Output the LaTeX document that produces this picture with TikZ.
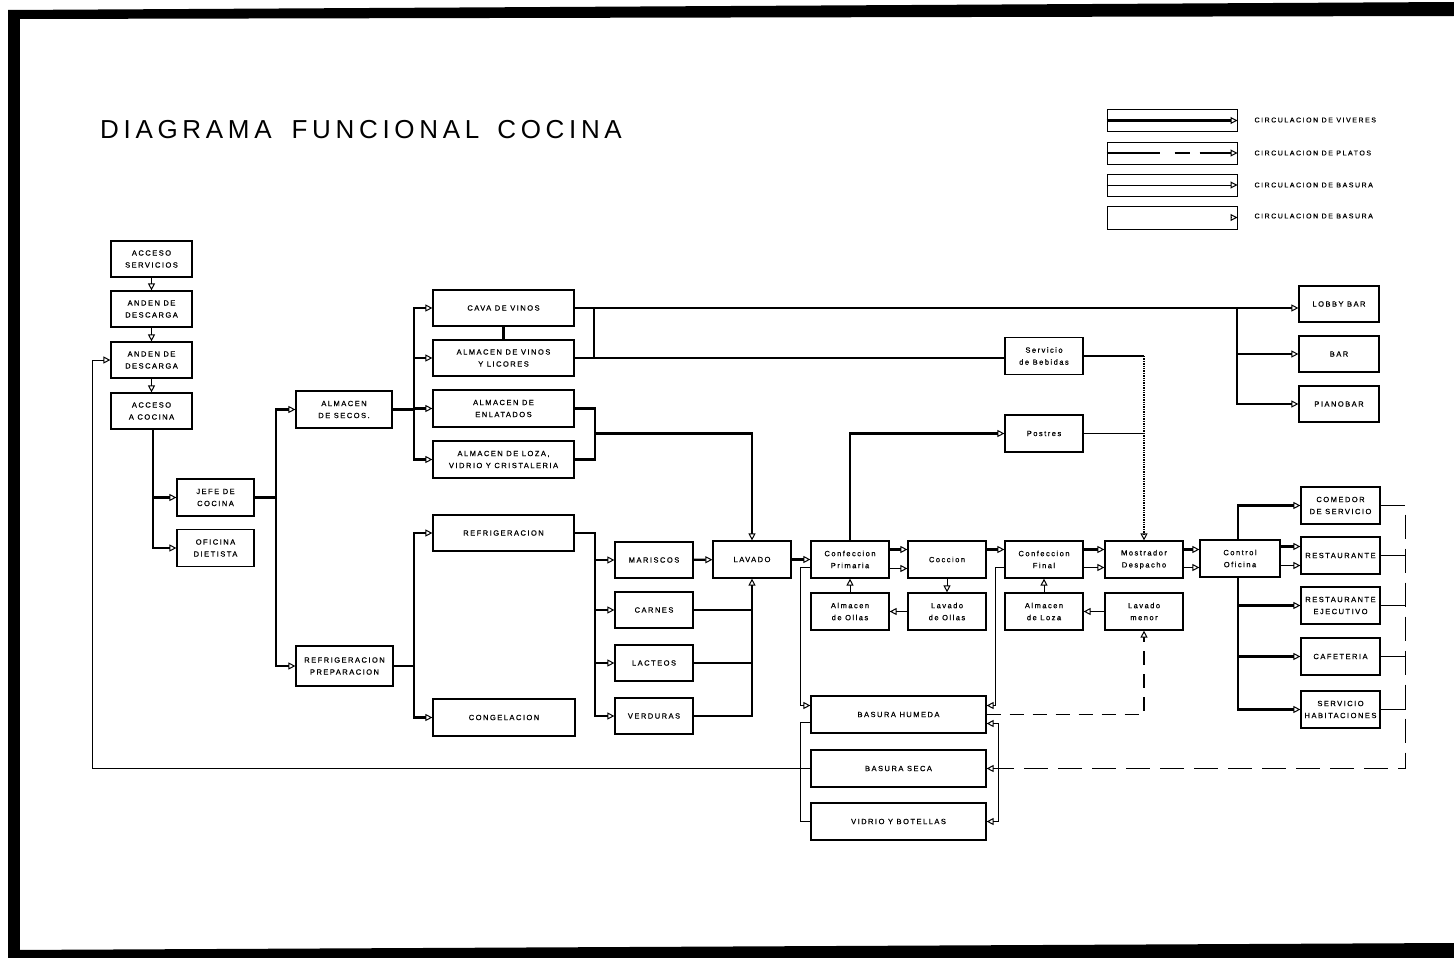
\documentclass[tikz,border=0pt]{standalone}
\usepackage{fontspec}
\setmainfont{Liberation Sans}
\newfontfamily\lblface{Liberation Sans}[LetterSpace=20,FakeBold=0.8]
\newfontfamily\lgdface{Liberation Sans}[LetterSpace=22,FakeBold=0.6]
\newfontfamily\ttlface{Liberation Sans}[LetterSpace=18]
\usetikzlibrary{arrows.meta}
\newcommand\lblfont{\lblface\fontsize{7.5}{12}\selectfont}
\newcommand\lgdfont{\lgdface\fontsize{7}{9}\selectfont}
\newcommand\ttlfont{\ttlface\fontsize{26}{30}\selectfont}

\begin{document}
\begin{tikzpicture}[x=1pt,y=-1pt,
  box/.style={draw, line width=1.2pt, align=center, inner sep=0pt, font=\lblfont,
              minimum width=78pt, minimum height=37pt},
  viv/.style={line width=2.2pt},
  medline/.style={line width=1.4pt},
  thn/.style={line width=1pt},
  plato/.style={dash pattern=on 14pt off 9pt},
  basura/.style={dash pattern=on 24pt off 10pt},
  arr/.style={-{Triangle[open,line width=1pt,length=7pt,width=7pt]}},
  lgd/.style={draw, line width=1pt, minimum width=130pt, minimum height=22pt, inner sep=0pt}]
\useasboundingbox (0,0) rectangle (1454,958);

% sheet frame
\fill (8,10) -- (1454,2) -- (1454,16) -- (8,19) -- cycle;
\fill (8,10) rectangle (20,958);
\fill (8,950) -- (1454,943) -- (1454,958) -- (8,958) -- cycle;

% title
\node[anchor=base west, font=\ttlfont, inner sep=0pt] (title) at (100,138)
  {DIAGRAMA\hspace{20pt}FUNCIONAL\hspace{18pt}COCINA};

% legend
\node[lgd] (lg1) at (1172,120.5) {};
\node[lgd] (lg2) at (1172,153) {};
\node[lgd] (lg3) at (1172,185) {};
\node[lgd, minimum height=23pt] (lg4) at (1172,217.5) {};
\draw[viv,arr] (lg1.west) -- (lg1.east);
\draw[medline,arr,dash pattern=on 53pt off 15pt on 15pt off 10pt on 60pt] (lg2.west) -- (lg2.east);
\draw[thn,arr] (lg3.west) -- (lg3.east);
\draw[thn,arr] ([xshift=-6pt]lg4.east) -- (lg4.east);
\node[anchor=west, font=\lgdfont] (lt1) at (1251,120) {CIRCULACION DE VIVERES};
\node[anchor=west, font=\lgdfont] (lt2) at (1251,153) {CIRCULACION DE PLATOS};
\node[anchor=west, font=\lgdfont] (lt3) at (1251,185) {CIRCULACION DE BASURA};
\node[anchor=west, font=\lgdfont] (lt4) at (1251,216) {CIRCULACION DE BASURA};

% entrance column
\node[box, minimum width=81pt, minimum height=36pt] (acs)  at (151.5,259) {ACCESO\\SERVICIOS};
\node[box, minimum width=81pt, minimum height=36pt] (and1) at (151.5,309) {ANDEN DE\\DESCARGA};
\node[box, minimum width=81pt, minimum height=36pt] (and2) at (151.5,360) {ANDEN DE\\DESCARGA};
\node[box, minimum width=81pt, minimum height=36pt] (acc)  at (151.5,411) {ACCESO\\A COCINA};
\node[box, minimum width=77pt] (jefe) at (215.5,497.5) {JEFE DE\\COCINA};
\node[box, minimum width=77pt] (ofi)  at (215.5,548) {OFICINA\\DIETISTA};

% stores
\node[box, minimum width=96pt] (secos) at (344,409.5) {ALMACEN\\DE SECOS.};
\node[box, minimum width=97pt, minimum height=40pt] (refprep) at (344.5,666) {REFRIGERACION\\PREPARACION};
\node[box, minimum width=141pt, minimum height=36pt] (cava)  at (503.5,308) {CAVA DE VINOS};
\node[box, minimum width=141pt, minimum height=36pt] (vinos) at (503.5,358) {ALMACEN DE VINOS\\Y LICORES};
\node[box, minimum width=141pt] (enlat) at (503.5,408.5) {ALMACEN DE\\ENLATADOS};
\node[box, minimum width=141pt] (loza)  at (503.5,459.5) {ALMACEN DE LOZA,\\VIDRIO Y CRISTALERIA};
\node[box, minimum width=141pt, minimum height=36pt] (refr) at (503.5,533) {REFRIGERACION};
\node[box, minimum width=142pt] (cong) at (504,717.5) {CONGELACION};
\node[box, minimum height=36pt] (mar) at (654,560) {MARISCOS};
\node[box, minimum height=36pt] (car) at (654,610) {CARNES};
\node[box, minimum height=36pt] (lac) at (654,663) {LACTEOS};
\node[box, minimum height=36pt] (ver) at (654,716) {VERDURAS};

% kitchen
\node[box] (lav)   at (752,559.5)  {LAVADO};
\node[box] (cp)    at (850,559.5)  {Confeccion\\Primaria};
\node[box] (ollas) at (850,611.5)  {Almacen\\de Ollas};
\node[box] (cocc)  at (947,559.5)  {Coccion};
\node[box] (lavol) at (947,611.5)  {Lavado\\de Ollas};
\node[box] (cf)    at (1044,559.5) {Confeccion\\Final};
\node[box] (aloza) at (1044,611.5) {Almacen\\de Loza};
\node[box] (most)  at (1144,559.5) {Mostrador\\Despacho};
\node[box] (lmen)  at (1144,611.5) {Lavado\\menor};
\node[box, minimum width=80pt] (ctrl) at (1240,558.5) {Control\\Oficina};
\node[box] (beb)   at (1044,356)   {Servicio\\de Bebidas};
\node[box] (post)  at (1044,433.5) {Postres};

% outlets
\node[box, minimum width=80pt, minimum height=36pt] (lobby) at (1339,304) {LOBBY BAR};
\node[box, minimum width=80pt, minimum height=36pt] (bar)   at (1339,354) {BAR};
\node[box, minimum width=80pt, minimum height=36pt] (piano) at (1339,404) {PIANOBAR};
\node[box, minimum width=79pt] (com)  at (1340.5,505.5) {COMEDOR\\DE SERVICIO};
\node[box, minimum width=79pt] (rest) at (1340.5,555.5) {RESTAURANTE};
\node[box, minimum width=79pt] (reje) at (1340.5,605.5) {RESTAURANTE\\EJECUTIVO};
\node[box, minimum width=79pt] (caf)  at (1340.5,656.5) {CAFETERIA};
\node[box, minimum width=79pt] (serv) at (1340.5,709.5) {SERVICIO\\HABITACIONES};

% refuse
\node[box, minimum width=175pt] (bh) at (898.5,714.5) {BASURA HUMEDA};
\node[box, minimum width=175pt] (bs) at (898.5,768.5) {BASURA SECA};
\node[box, minimum width=175pt] (vb) at (898.5,821.5) {VIDRIO Y BOTELLAS};

% entrance flow
\draw[medline,arr] (acs) -- (and1);
\draw[medline,arr] (and1) -- (and2);
\draw[medline,arr] (and2) -- (acc);
\draw[viv,arr] ([xshift=1.5pt]acc.south) |- (jefe.west);
\draw[viv,arr] ([xshift=1.5pt]acc.south) |- (ofi.west);
\draw[viv,arr] (jefe.east) -- ++(21,0) |- (secos.west);
\draw[viv,arr] (jefe.east) -- ++(21,0) |- (refprep.west);
\foreach \t in {cava,vinos,enlat,loza}
  \draw[viv,arr] (secos.east) -- ++(21,0) |- (\t.west);
\foreach \t in {refr,cong}
  \draw[viv,arr] (refprep.east) -- ++(20,0) |- (\t.west);
\draw[viv] (cava) -- (vinos);

% wines and liquors to the bars
\coordinate (wj) at (594,308);
\coordinate (bj) at (1237,308);
\draw[viv,arr] (cava.east) -- (cava.east -| lobby.west);
\draw[viv] (wj) |- (vinos.east);
\draw[viv,arr] (bj) |- (bar.west);
\draw[viv,arr] (bj) |- (piano.west);
\draw[medline] (vinos.east) -- (vinos.east -| beb.west);

% drinks and desserts to the counter
\draw[medline] (beb.east) -- (beb.east -| most.north);
\draw[medline,densely dotted,arr] (beb.east -| most.north) -- (most.north);
\draw[medline] (post.east) -- (post.east -| most.north);
\draw[viv,arr] (cp.north) |- (post.west);

% canned goods and crockery to washing
\coordinate (ej) at (594,433.5);
\draw[viv] (enlat.east) -- ++(20,0) |- (loza.east);
\draw[viv,arr] (ej) -| (lav.north);

% cold stores to washing
\foreach \t in {mar,car,lac,ver}
  \draw[viv,arr] (refr.east) -- ++(20.5,0) |- (\t.west);
\draw[viv,arr] (mar) -- (lav);
\draw[viv,arr] (ver.east) -| (lav.south);
\draw[viv] (car.east) -- (car.east -| lav.south);
\draw[viv] (lac.east) -- (lac.east -| lav.south);

% cooking line
\draw[viv,arr] (lav) -- (cp);
\draw[viv,arr] ([yshift=10pt]cp.east) -- ([yshift=10pt]cocc.west);
\draw[medline,arr] ([yshift=-9pt]cp.east) -- ([yshift=-9pt]cocc.west);
\draw[viv,arr] ([yshift=10pt]cocc.east) -- ([yshift=10pt]cf.west);
\draw[viv,arr] ([yshift=10pt]cf.east) -- ([yshift=10pt]most.west);
\draw[thn,arr] ([yshift=-8pt]cf.east) -- ([yshift=-8pt]most.west);
\draw[viv,arr] ([yshift=10pt]most.east) -- ([yshift=10pt]most.east -| ctrl.west);
\draw[thn,plato,arr] ([yshift=-8pt]most.east) -- ([yshift=-8pt]most.east -| ctrl.west);
\draw[thn,arr] (cocc) -- (lavol);
\draw[thn,arr] (lavol) -- (ollas);
\draw[thn,arr] (ollas) -- (cp);
\draw[thn,arr] (aloza) -- (cf);
\draw[medline,arr] (lmen) -- (aloza);

% service to the dining rooms
\draw[viv,arr] ([xshift=-2pt]ctrl.north) |- (com.west);
\draw[viv,arr] ([yshift=12pt]ctrl.east) -- ([yshift=12pt]ctrl.east -| rest.west);
\draw[thn,plato,arr] ([yshift=-7pt]ctrl.east) -- ([yshift=-7pt]ctrl.east -| rest.west);
\foreach \t in {reje,caf,serv}
  \draw[viv,arr] ([xshift=-2pt]ctrl.south) |- (\t.west);

% refuse flow
\draw[thn,arr] ([yshift=-8pt]cp.west) -- ++(-10,0) |- ([yshift=9pt]bh.west);
\draw[thn] ([yshift=-8pt]bh.west) -- ++(-10,0) |- (vb.west);
\draw[thn,arr] (bs.west) -- ++(-718,0) |- (and2.west);
\draw[thn,arr] ([yshift=-8pt]cf.west) -- ++(-9,0) |- ([yshift=9pt]bh.east);
\draw[medline,plato,arr] (bh.east) -| (lmen.south);
\coordinate (rj) at (998,768.5);
\draw[thn,arr] (rj) |- ([yshift=-9pt]bh.east);
\draw[thn,arr] (rj) |- (vb.east);
\draw[medline,basura,arr] (com.east) -- ++(25,0) |- (bs.east);
\foreach \t in {rest,reje,caf,serv}
  \draw[medline] (\t.east) -- ++(25,0);
\end{tikzpicture}
\end{document}
